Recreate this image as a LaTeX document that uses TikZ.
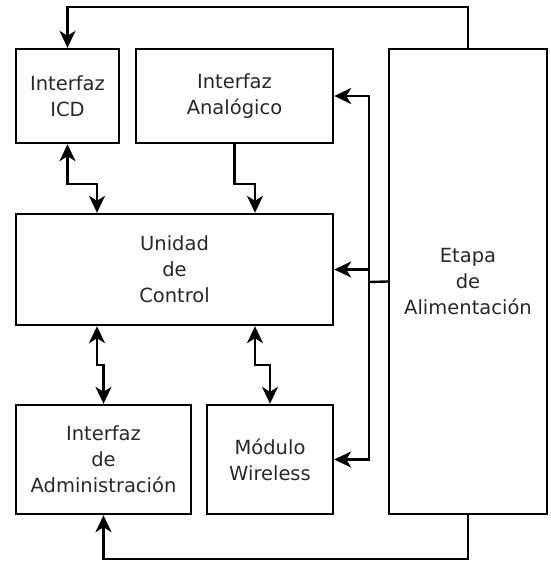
\documentclass[tikz,border=0pt]{standalone}
\usepackage{fontspec}
\setmainfont{DejaVu Sans}
\usetikzlibrary{arrows.meta}

\begin{document}
\begin{tikzpicture}[x=1pt, y=-1pt,
    box/.style={draw=borderColour, line width=2.4pt, inner sep=0pt, align=center,
        text=textColour, font=\fontsize{19.5}{26}\selectfont},
    link/.style={draw=borderColour, line width=2.4pt},
    arrowLink/.style={link, -{Stealth[length=17pt, width=16pt, inset=5pt]}},
    biLink/.style={link, {Stealth[length=17pt, width=16pt, inset=5pt]}-{Stealth[length=17pt, width=16pt, inset=5pt]}}]

    \definecolor{borderColour}{HTML}{000000}
    \definecolor{textColour}{HTML}{282828}

    % Fix the page size
    \useasboundingbox (0,0) rectangle (550,565);

    % Draw the blocks
    \node[box, minimum width=103pt, minimum height=94pt] (icd) at (67.5,96) {Interfaz\\ICD};
    \node[box, minimum width=197pt, minimum height=94pt] (analog) at (234.5,96) {Interfaz\\Analógico};
    \node[box, minimum width=317pt, minimum height=111pt] (control) at (174.5,269.5) {Unidad\\de\\Control};
    \node[box, minimum width=175pt, minimum height=109pt] (admin) at (103.5,459.5) {Interfaz\\de\\Administración};
    \node[box, minimum width=126pt, minimum height=109pt] (wireless) at (270,459.5) {Módulo\\Wireless};
    \node[box, minimum width=158pt, minimum height=465pt] (power) at (468,281.5) {Etapa\\de\\Alimentación};

    % Elbow points of the connectors
    \coordinate (topElbow) at (67.5,7);
    \coordinate (bottomElbow) at (103.5,559);
    \coordinate (bus) at (369,282);

    % Draw the supply lines
    \draw[arrowLink] (power.north) |- (topElbow) -- (icd.north);
    \draw[arrowLink] (power.south) |- (bottomElbow) -- (admin.south);
    \draw[link] (power.west) -- (bus);
    \draw[arrowLink] (bus) |- (analog.east);
    \draw[arrowLink] (bus |- control.east) -- (control.east);
    \draw[arrowLink] (bus) |- (wireless.east);

    % Draw the data lines
    \draw[biLink] (icd.south) -- ++(0,40) -| ([xshift=-77.5pt]control.north);
    \draw[arrowLink] (analog.south) -- ++(0,40) -| ([xshift=80.5pt]control.north);
    \draw[biLink] ([xshift=-77.5pt]control.south) -- ++(0,39) -| (admin.north);
    \draw[biLink] ([xshift=80.5pt]control.south) -- ++(0,39) -| (wireless.north);

\end{tikzpicture}
\end{document}
